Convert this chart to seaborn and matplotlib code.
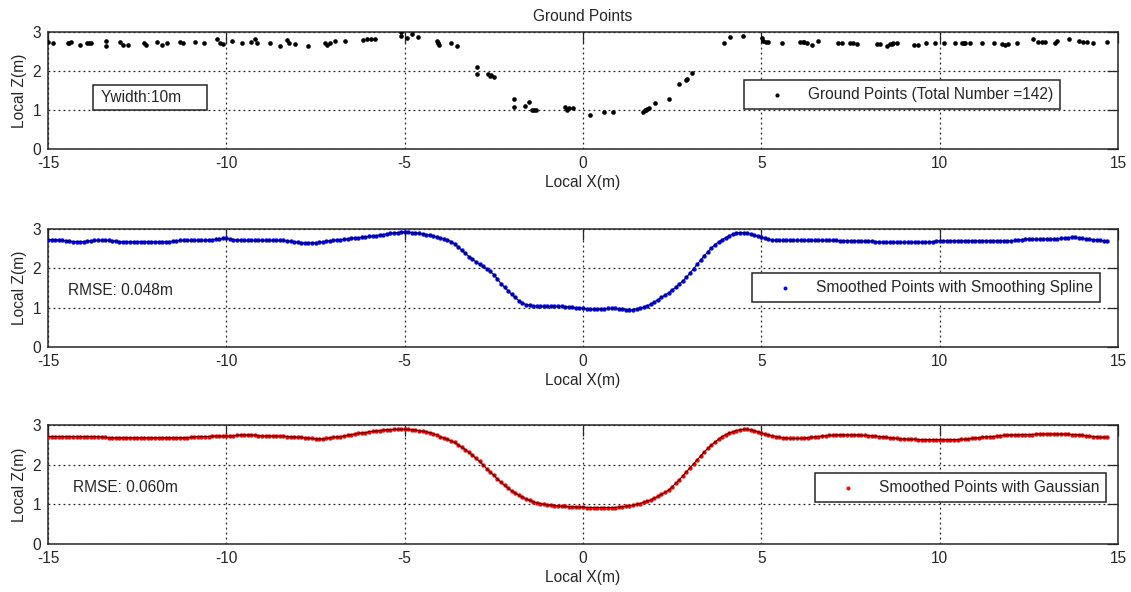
import numpy as np
import pandas as pd
import matplotlib
matplotlib.use("Agg")
import matplotlib.pyplot as plt
from matplotlib.patches import Rectangle
import seaborn as sns

# ---------------------------------------------------------------- data
# Raw ground points along the profile (local X, local Z in metres)
ground_x = [
    -14.99, -14.85, -14.43, -14.40, -14.36, -14.10, -13.90, -13.85, -13.80, -13.37,
    -13.37, -12.98, -12.89, -12.75, -12.31, -12.26, -11.94, -11.80, -11.67, -11.30,
    -11.21, -10.88, -10.63, -10.25, -10.18, -10.10,
    -9.83, -9.55, -9.32, -9.21, -9.15, -8.78, -8.50, -8.31, -8.25, -8.08,
    -7.70, -7.23, -7.19, -7.09, -6.95, -6.67, -6.16, -6.07, -5.95, -5.83,
    -5.11, -5.11, -4.94, -4.80, -4.62, -4.10, -4.07, -4.06, -4.04, -3.71,
    -3.54, -2.98, -2.98, -2.66, -2.62, -2.59, -2.50, -1.94, -1.94, -1.63,
    -1.51, -1.42, -1.37, -1.33, -0.51, -0.44, -0.38, -0.27, 0.20, 0.59,
    0.83, 1.67, 1.74, 1.77, 1.80, 1.86, 2.02, 2.41, 2.69, 2.89,
    2.92, 3.05, 3.95, 4.12, 4.49,
    5.01, 5.06, 5.12, 5.20, 5.57, 6.08, 6.16, 6.20, 6.27, 6.41,
    6.59, 7.16, 7.25, 7.49, 7.58, 7.67, 8.23, 8.32, 8.51, 8.61,
    8.65, 8.70, 8.79, 9.28, 9.40, 9.63, 9.87, 10.12, 10.43, 10.62,
    10.67, 10.71, 10.85, 11.18, 11.52, 11.74, 11.83, 11.92, 12.17, 12.61,
    12.76, 12.86, 12.95, 13.23, 13.28, 13.63, 13.91, 14.03, 14.12, 14.31,
    14.68,
]
ground_z = [
    2.75, 2.73, 2.71, 2.73, 2.75, 2.67, 2.73, 2.72, 2.73, 2.77,
    2.63, 2.75, 2.67, 2.67, 2.73, 2.67, 2.75, 2.67, 2.71, 2.75,
    2.71, 2.75, 2.71, 2.81, 2.73, 2.69,
    2.77, 2.71, 2.74, 2.81, 2.71, 2.73, 2.64, 2.79, 2.73, 2.69,
    2.64, 2.73, 2.67, 2.73, 2.76, 2.78, 2.79, 2.83, 2.81, 2.81,
    2.99, 2.90, 2.84, 2.95, 2.88, 2.78, 2.73, 2.71, 2.67, 2.73,
    2.63, 2.09, 1.92, 1.92, 1.88, 1.90, 1.85, 1.27, 1.07, 1.10,
    1.21, 1.00, 1.00, 1.00, 1.07, 1.00, 1.04, 1.04, 0.87, 0.96,
    0.96, 0.96, 1.00, 0.99, 1.02, 1.04, 1.17, 1.28, 1.66, 1.76,
    1.79, 1.95, 2.73, 2.86, 2.90,
    2.84, 2.77, 2.75, 2.75, 2.73, 2.75, 2.75, 2.74, 2.71, 2.67,
    2.78, 2.71, 2.71, 2.73, 2.73, 2.69, 2.69, 2.69, 2.64, 2.69,
    2.70, 2.71, 2.71, 2.67, 2.67, 2.71, 2.71, 2.71, 2.71, 2.71,
    2.71, 2.71, 2.71, 2.71, 2.73, 2.69, 2.67, 2.69, 2.73, 2.82,
    2.75, 2.75, 2.75, 2.73, 2.78, 2.82, 2.78, 2.75, 2.75, 2.73,
    2.75,
]

# Smoothed profiles sampled every 0.1 m from -15.0 to 14.7 m
smooth_x = np.arange(-150, 148) / 10.0

spline_z = [
    2.73, 2.73, 2.72, 2.72, 2.71, 2.70, 2.69, 2.68, 2.68, 2.68,   # -15
    2.68, 2.69, 2.70, 2.71, 2.71, 2.71, 2.71, 2.71, 2.70, 2.69,   # -14
    2.68, 2.67, 2.67, 2.67, 2.67, 2.67, 2.67, 2.67, 2.67, 2.67,   # -13
    2.67, 2.67, 2.67, 2.67, 2.68, 2.69, 2.70, 2.71, 2.71, 2.71,   # -12
    2.71, 2.71, 2.71, 2.71, 2.71, 2.72, 2.73, 2.74, 2.75, 2.76,   # -11
    2.76, 2.75, 2.73, 2.72, 2.71, 2.71, 2.71, 2.71, 2.71, 2.71,   # -10
    2.71, 2.71, 2.71, 2.71, 2.71, 2.71, 2.71, 2.70, 2.69, 2.68,   # -9
    2.66, 2.65, 2.65, 2.65, 2.65, 2.65, 2.66, 2.67, 2.69, 2.70,   # -8
    2.71, 2.72, 2.73, 2.74, 2.75, 2.76, 2.77, 2.78, 2.79, 2.80,   # -7
    2.81, 2.82, 2.83, 2.85, 2.86, 2.88, 2.89, 2.90, 2.91, 2.92,   # -6
    2.92, 2.92, 2.91, 2.90, 2.89, 2.87, 2.86, 2.84, 2.82, 2.80,   # -5
    2.77, 2.75, 2.72, 2.68, 2.62, 2.54, 2.46, 2.38, 2.30, 2.23,   # -4
    2.16, 2.10, 2.05, 1.99, 1.92, 1.84, 1.73, 1.61, 1.52, 1.43,   # -3
    1.34, 1.26, 1.18, 1.12, 1.08, 1.06, 1.04, 1.04, 1.03, 1.03,   # -2
    1.03, 1.03, 1.03, 1.03, 1.03, 1.02, 1.02, 1.01, 1.00, 0.99,   # -1
    0.98, 0.97, 0.96, 0.96, 0.96, 0.97, 0.97, 0.98, 0.98, 0.98,   # 0
    0.97, 0.96, 0.95, 0.94, 0.95, 0.96, 0.98, 1.01, 1.05, 1.09,   # 1
    1.14, 1.20, 1.26, 1.32, 1.38, 1.45, 1.52, 1.60, 1.68, 1.77,   # 2
    1.88, 1.99, 2.10, 2.21, 2.32, 2.42, 2.52, 2.60, 2.67, 2.73,   # 3
    2.78, 2.83, 2.87, 2.90, 2.91, 2.91, 2.89, 2.87, 2.84, 2.82,   # 4
    2.79, 2.76, 2.74, 2.72, 2.71, 2.71, 2.71, 2.71, 2.71, 2.71,   # 5
    2.71, 2.71, 2.71, 2.71, 2.71, 2.71, 2.71, 2.71, 2.71, 2.71,   # 6
    2.71, 2.71, 2.70, 2.70, 2.70, 2.70, 2.70, 2.69, 2.69, 2.69,   # 7
    2.69, 2.69, 2.68, 2.67, 2.66, 2.66, 2.66, 2.66, 2.66, 2.66,   # 8
    2.66, 2.66, 2.66, 2.66, 2.66, 2.66, 2.66, 2.67, 2.68, 2.69,   # 9
    2.70, 2.70, 2.70, 2.70, 2.70, 2.70, 2.70, 2.70, 2.70, 2.70,   # 10
    2.70, 2.70, 2.70, 2.70, 2.70, 2.70, 2.70, 2.70, 2.70, 2.70,   # 11
    2.70, 2.71, 2.72, 2.73, 2.74, 2.74, 2.74, 2.74, 2.74, 2.74,   # 12
    2.74, 2.74, 2.74, 2.75, 2.76, 2.77, 2.78, 2.79, 2.79, 2.78,   # 13
    2.76, 2.75, 2.74, 2.73, 2.72, 2.71, 2.70, 2.70,               # 14
]

gauss_z = [
    2.71, 2.71, 2.71, 2.71, 2.71, 2.71, 2.71, 2.71, 2.71, 2.71,   # -15
    2.71, 2.71, 2.71, 2.71, 2.71, 2.70, 2.69, 2.68, 2.68, 2.68,   # -14
    2.68, 2.68, 2.68, 2.68, 2.68, 2.68, 2.68, 2.68, 2.68, 2.68,   # -13
    2.68, 2.68, 2.68, 2.68, 2.68, 2.68, 2.68, 2.68, 2.68, 2.68,   # -12
    2.69, 2.70, 2.71, 2.71, 2.71, 2.71, 2.72, 2.72, 2.72, 2.72,   # -11
    2.72, 2.72, 2.73, 2.74, 2.75, 2.75, 2.75, 2.75, 2.74, 2.73,   # -10
    2.72, 2.72, 2.72, 2.72, 2.72, 2.72, 2.72, 2.71, 2.70, 2.70,   # -9
    2.69, 2.69, 2.68, 2.67, 2.66, 2.65, 2.65, 2.65, 2.66, 2.68,   # -8
    2.69, 2.70, 2.71, 2.72, 2.74, 2.76, 2.77, 2.79, 2.80, 2.81,   # -7
    2.83, 2.84, 2.85, 2.86, 2.87, 2.88, 2.88, 2.89, 2.89, 2.89,   # -6
    2.89, 2.89, 2.88, 2.87, 2.86, 2.84, 2.83, 2.81, 2.78, 2.75,   # -5
    2.70, 2.67, 2.64, 2.60, 2.56, 2.50, 2.44, 2.38, 2.31, 2.24,   # -4
    2.16, 2.08, 1.99, 1.90, 1.81, 1.73, 1.64, 1.56, 1.48, 1.41,   # -3
    1.34, 1.28, 1.23, 1.18, 1.14, 1.10, 1.07, 1.04, 1.02, 1.00,   # -2
    0.99, 0.98, 0.97, 0.96, 0.95, 0.95, 0.94, 0.94, 0.93, 0.93,   # -1
    0.93, 0.92, 0.92, 0.92, 0.92, 0.92, 0.92, 0.92, 0.92, 0.92,   # 0
    0.93, 0.94, 0.95, 0.96, 0.98, 1.00, 1.02, 1.05, 1.08, 1.11,   # 1
    1.16, 1.20, 1.25, 1.30, 1.36, 1.44, 1.53, 1.62, 1.72, 1.82,   # 2
    1.92, 2.02, 2.12, 2.22, 2.32, 2.41, 2.49, 2.57, 2.64, 2.71,   # 3
    2.76, 2.80, 2.83, 2.86, 2.88, 2.89, 2.89, 2.88, 2.86, 2.83,   # 4
    2.80, 2.77, 2.75, 2.73, 2.71, 2.69, 2.68, 2.67, 2.66, 2.66,   # 5
    2.66, 2.66, 2.67, 2.68, 2.69, 2.70, 2.71, 2.72, 2.73, 2.74,   # 6
    2.74, 2.75, 2.75, 2.75, 2.75, 2.75, 2.75, 2.75, 2.74, 2.74,   # 7
    2.73, 2.73, 2.72, 2.71, 2.70, 2.69, 2.68, 2.67, 2.66, 2.65,   # 8
    2.65, 2.64, 2.64, 2.64, 2.63, 2.63, 2.63, 2.63, 2.63, 2.63,   # 9
    2.63, 2.63, 2.63, 2.63, 2.63, 2.63, 2.64, 2.64, 2.65, 2.66,   # 10
    2.67, 2.68, 2.69, 2.70, 2.71, 2.71, 2.72, 2.73, 2.74, 2.74,   # 11
    2.75, 2.75, 2.75, 2.76, 2.76, 2.76, 2.76, 2.77, 2.77, 2.77,   # 12
    2.77, 2.77, 2.77, 2.77, 2.77, 2.77, 2.77, 2.76, 2.76, 2.75,   # 13
    2.74, 2.73, 2.72, 2.71, 2.70, 2.69, 2.69, 2.69,               # 14
]

x_ticks = [-15, -10, -5, 0, 5, 10, 15]
z_ticks = [0, 1, 2, 3]
rmse_spline = 0.048
rmse_gauss = 0.060
ywidth = 10

# ---------------------------------------------------------------- style
sns.set_theme(style="white")
plt.rcParams["font.family"] = ["Liberation Sans", "DejaVu Sans"]
FS = 11.2
INK = "#262626"

fig = plt.figure(figsize=(11.31, 5.92), dpi=100)
left, width = 48 / 1131, 1070 / 1131
ax_top = fig.add_axes([left, 1 - 149 / 592, width, 117 / 592])
ax_mid = fig.add_axes([left, 1 - 347 / 592, width, 118 / 592])
ax_bot = fig.add_axes([left, 1 - 544 / 592, width, 119 / 592])


def style_axis(ax):
    ax.set_xlim(-15, 15)
    ax.set_ylim(0, 3)
    ax.set_xticks(x_ticks)
    ax.set_yticks(z_ticks)
    ax.set_xticklabels([str(t) for t in x_ticks])
    ax.set_yticklabels([str(t) for t in z_ticks])
    ax.grid(True, linestyle=(0, (1.5, 2.5)), color="#222222", linewidth=0.9)
    ax.set_axisbelow(True)
    ax.tick_params(direction="in", length=8, width=0.9, top=True, right=True,
                   labelsize=FS, colors=INK, pad=5)
    for sp in ax.spines.values():
        sp.set_color(INK)
        sp.set_linewidth(1.1)
    ax.set_xlabel("Local X(m)", fontsize=FS, color=INK, labelpad=3)
    ax.set_ylabel("Local Z(m)", fontsize=FS, color=INK, labelpad=4)


def add_legend(ax, handle, label, anchor):
    leg = ax.legend([handle], [label], loc="upper right", bbox_to_anchor=anchor,
                    borderaxespad=0, fontsize=FS, frameon=True, fancybox=False,
                    framealpha=1, edgecolor=INK, borderpad=0.45,
                    handlelength=3.3, handletextpad=0.35, markerscale=0.9)
    leg.get_frame().set_linewidth(1.1)
    for t in leg.get_texts():
        t.set_color(INK)
    return leg


# ---------------------------------------------------------------- top: raw ground points
ground = pd.DataFrame({"x": ground_x, "z": ground_z})
sns.scatterplot(data=ground, x="x", y="z", ax=ax_top, color="black", s=11,
                marker="o", linewidth=0, legend=False, zorder=3)
style_axis(ax_top)
ax_top.set_title("Ground Points", fontsize=FS, color=INK, pad=8)
add_legend(ax_top, ax_top.collections[0],
           f"Ground Points (Total Number ={len(ground)})", (0.946, 0.59))
ax_top.add_patch(Rectangle((0.042, 0.333), 0.107, 0.214, transform=ax_top.transAxes,
                           facecolor="white", edgecolor=INK, linewidth=1.1, zorder=4))
ax_top.text(0.0495, 0.44, f"Ywidth:{ywidth}m", transform=ax_top.transAxes,
            fontsize=FS, color=INK, va="center", ha="left", zorder=5)


# ---------------------------------------------------------------- smoothed panels
def smoothed_panel(ax, z, color, line_color, label, rmse, rmse_pos, anchor):
    df = pd.DataFrame({"x": smooth_x, "z": z})
    sns.scatterplot(data=df, x="x", y="z", ax=ax, color=color, s=10, marker="o",
                    linewidth=0, legend=False, zorder=3)
    sns.lineplot(data=df, x="x", y="z", ax=ax, color=line_color, linewidth=0.8,
                 legend=False, zorder=4)
    style_axis(ax)
    add_legend(ax, ax.collections[0], label, anchor)
    ax.text(rmse_pos[0], rmse_pos[1], f"RMSE: {rmse:.3f}m", transform=ax.transAxes,
            fontsize=FS, color=INK, va="center", ha="left")


smoothed_panel(ax_mid, spline_z, "#0000ff", "#00003a",
               "Smoothed Points with Smoothing Spline", rmse_spline,
               (0.0184, 0.483), (0.983, 0.627))
smoothed_panel(ax_bot, gauss_z, "#ff0000", "#3a0000",
               "Smoothed Points with Gaussian", rmse_gauss,
               (0.023, 0.476), (0.989, 0.599))

fig.savefig("out.png", dpi=100, facecolor="white")
